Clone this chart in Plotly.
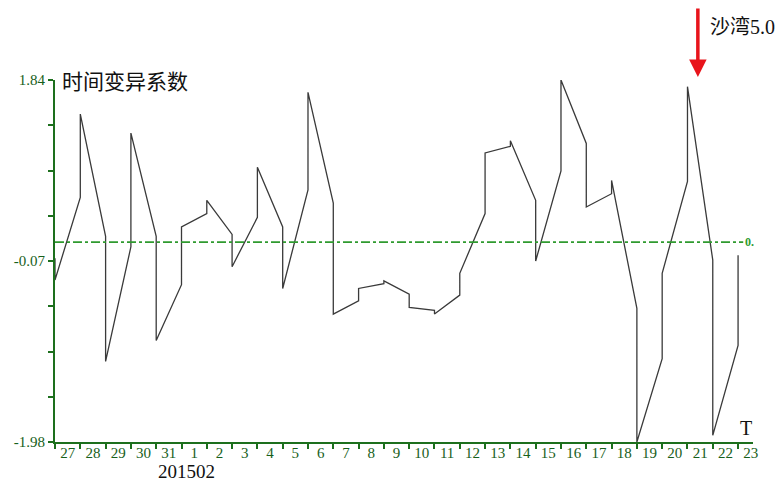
import datetime as dt
import plotly.graph_objects as go

# Day labels shown along the time axis (2015-01-27 .. 2015-02-23)
day_labels = ["27", "28", "29", "30", "31", "1", "2", "3", "4", "5", "6", "7", "8", "9",
              "10", "11", "12", "13", "14", "15", "16", "17", "18", "19", "20", "21", "22", "23"]
first_day = dt.datetime(2015, 1, 27)

# Coefficient value at the start of each day (00:00)
start_values = [-0.27, 1.48, -1.13, 1.28, -0.91, 0.29, 0.57, -0.13, 0.92, -0.36,
                1.71, -0.63, -0.36, -0.28, -0.56, -0.63, -0.20, 1.07, 1.20, -0.07,
                1.84, 0.50, 0.78, -1.98, -0.20, 1.77, -1.91, -0.01]
# Coefficient value at the end of each day (24:00)
end_values = [0.60, 0.19, 0.08, 0.19, -0.32, 0.43, 0.21, 0.39, 0.29, 0.68,
              0.54, -0.49, -0.31, -0.42, -0.59, -0.43, 0.43, 1.14, 0.57, 0.88,
              1.17, 0.64, -0.57, -1.10, 0.77, -0.06, -0.96]
prior_end_value = -0.04   # end value of the day before the window
reference_value = 0.13    # dash-dot reference level
y_min, y_max = -1.98, 1.84

# Build the line path: each day runs from its start value to its end value
xs = [first_day]
ys = [prior_end_value]
for i, v in enumerate(start_values):
    day = first_day + dt.timedelta(days=i)
    xs.append(day)
    ys.append(v)
    if i < len(end_values):
        xs.append(day + dt.timedelta(days=1))
        ys.append(end_values[i])

axis_green = "#1d6f1d"
text_green = "#17601a"
serif = "Liberation Serif, Times New Roman, serif"
cjk = "Noto Sans CJK SC"
mixed = "Liberation Serif, Noto Sans CJK SC"

x_start = first_day
x_end = first_day + dt.timedelta(days=27.59)

fig = go.Figure()
fig.add_trace(go.Scatter(x=xs, y=ys, mode="lines",
                         line=dict(color="#3a3a3a", width=1.3),
                         hoverinfo="skip", showlegend=False))

# Reference level
fig.add_shape(type="line", xref="paper", yref="y", x0=0, x1=0.986,
              y0=reference_value, y1=reference_value,
              line=dict(color="#2f9a2f", width=1.8, dash="dashdot"))
fig.add_annotation(xref="paper", yref="y", x=0.995, y=reference_value,
                   text="<b>0.</b>", showarrow=False, xanchor="center",
                   font=dict(family=serif, size=12, color="#2f9a2f"))

# Y ticks every quarter of the half-range, labelled at min, mid, max
n_steps = 8
step = (y_max - y_min) / n_steps
y_ticks = [y_min + k * step for k in range(n_steps + 1)]
y_text = ["" for _ in y_ticks]
y_text[0] = f"{y_min:.2f}"
y_text[4] = f"{(y_min + y_max) / 2:.2f}"
y_text[-1] = f"{y_max:.2f}"

fig.update_layout(
    width=778, height=484,
    margin=dict(l=55, r=25, t=80, b=42),
    paper_bgcolor="white", plot_bgcolor="white",
    xaxis=dict(
        type="date", range=[x_start, x_end],
        tick0=first_day, dtick=86400000, tickformat="%-d",
        ticklabelmode="period", ticklabelstandoff=-9,
        showgrid=False, zeroline=False,
        showline=True, linecolor=axis_green, linewidth=2,
        ticks="outside", ticklen=5, tickwidth=2, tickcolor=axis_green,
        tickfont=dict(family=serif, size=15, color=text_green),
    ),
    yaxis=dict(
        range=[y_min, y_max],
        tickvals=y_ticks, ticktext=y_text,
        showgrid=False, zeroline=False,
        showline=True, linecolor=axis_green, linewidth=2,
        ticks="outside", ticklen=5, tickwidth=2, tickcolor=axis_green,
        tickfont=dict(family=serif, size=15, color=text_green),
    ),
)

fig.add_annotation(xref="paper", yref="paper", x=0.007, y=1.0,
                   text="时间变异系数", showarrow=False,
                   xanchor="left", yanchor="middle",
                   font=dict(family=cjk, size=21, color="#111111"))
fig.add_annotation(xref="paper", yref="paper", x=0.189, y=-0.1133,
                   text="201502", showarrow=False, borderpad=0,
                   xanchor="center", yanchor="bottom",
                   font=dict(family=serif, size=19, color="#111111"))
fig.add_annotation(xref="paper", yref="paper", x=0.99, y=0.04,
                   text="T", showarrow=False,
                   xanchor="center", yanchor="middle",
                   font=dict(family=serif, size=20, color="#111111"))

# Event marker
fig.add_annotation(xref="paper", yref="paper", x=0.921, y=1.008,
                   ax=0, ay=-70, axref="pixel", ayref="pixel",
                   text="", showarrow=True, arrowhead=2, arrowsize=1.0,
                   arrowwidth=3.5, arrowcolor="#e8141b")
fig.add_annotation(xref="paper", yref="paper", x=0.935, y=1.146,
                   text="沙湾5.0", showarrow=False,
                   xanchor="left", yanchor="middle",
                   font=dict(family=mixed, size=20, color="#111111"))

fig.write_html("out.html")
